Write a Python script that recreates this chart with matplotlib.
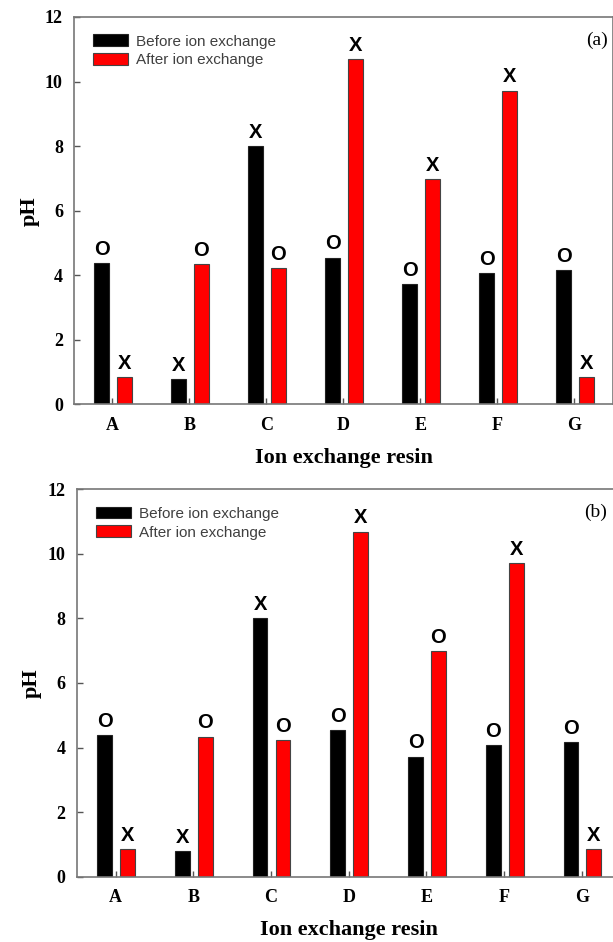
import matplotlib.pyplot as plt
import numpy as np

resins = ["A", "B", "C", "D", "E", "F", "G"]
ph_before = [4.39, 0.79, 8.0, 4.55, 3.72, 4.08, 4.17]
ph_after = [0.86, 4.34, 4.22, 10.69, 6.98, 9.72, 0.86]

marks_before = ["O", "X", "X", "O", "O", "O", "O"]
marks_after_a = ["X", "O", "O", "X", "X", "X", "X"]
marks_after_b = ["X", "O", "O", "X", "O", "X", "X"]

serif = "Liberation Serif"
sans = "Liberation Sans"


def draw_panel(ax, marks_after, tag, tag_x):
    x = np.arange(len(resins))
    width = 0.19

    ax.bar(x - 0.14, ph_before, width, color="black", edgecolor="#222222",
           linewidth=0.8, label="Before ion exchange")
    ax.bar(x + 0.155, ph_after, width, color="#ff0000", edgecolor="#444444",
           linewidth=0.8, label="After ion exchange")

    # O / X marks above each bar
    for i in range(len(resins)):
        ax.annotate(marks_before[i], (x[i] - 0.14, ph_before[i]),
                    xytext=(0, 3), textcoords="offset points",
                    ha="center", va="bottom", fontsize=14.5,
                    fontweight="bold", family=sans)
        ax.annotate(marks_after[i], (x[i] + 0.155, ph_after[i]),
                    xytext=(0, 3), textcoords="offset points",
                    ha="center", va="bottom", fontsize=14.5,
                    fontweight="bold", family=sans)

    ax.set_xlim(-0.5, 6.5)
    ax.set_ylim(0, 12)
    ax.set_xticks(x)
    ax.set_xticklabels(resins)
    ax.set_yticks(np.arange(0, 13, 2))

    for lbl in ax.get_xticklabels() + ax.get_yticklabels():
        lbl.set_family(serif)
        lbl.set_fontweight("bold")
        lbl.set_fontsize(13)
    ax.tick_params(axis="both", direction="in", length=4, width=1,
                   color="#555555")
    ax.tick_params(axis="x", pad=9)
    ax.tick_params(axis="y", pad=8)

    for s in ax.spines.values():
        s.set_color("#777777")
        s.set_linewidth(1.2)

    ax.set_xlabel("Ion exchange resin", family=serif, fontweight="bold",
                  fontsize=16, labelpad=10)
    ax.set_ylabel("pH", family=serif, fontweight="bold", fontsize=16,
                  labelpad=4)

    leg = ax.legend(loc="upper left", bbox_to_anchor=(0.035, 0.955),
                    frameon=False, borderpad=0, borderaxespad=0,
                    handlelength=2.3, handleheight=0.8, handletextpad=0.5,
                    labelspacing=0.3, prop={"family": sans, "size": 11})
    for t in leg.get_texts():
        t.set_color("#404040")

    ax.text(tag_x, 0.94, tag, transform=ax.transAxes, ha="right",
            va="center", family=serif, fontsize=14)


fig = plt.figure(figsize=(6.13, 9.42), dpi=100)
ax1 = fig.add_axes([0.1207, 0.5706, 0.8793, 0.4114])
ax2 = fig.add_axes([0.1251, 0.0693, 0.8874, 0.4113])

draw_panel(ax1, marks_after_a, "(a)", 0.99)
draw_panel(ax2, marks_after_b, "(b)", 0.975)

fig.savefig("out.png", dpi=100)
plt.close()
